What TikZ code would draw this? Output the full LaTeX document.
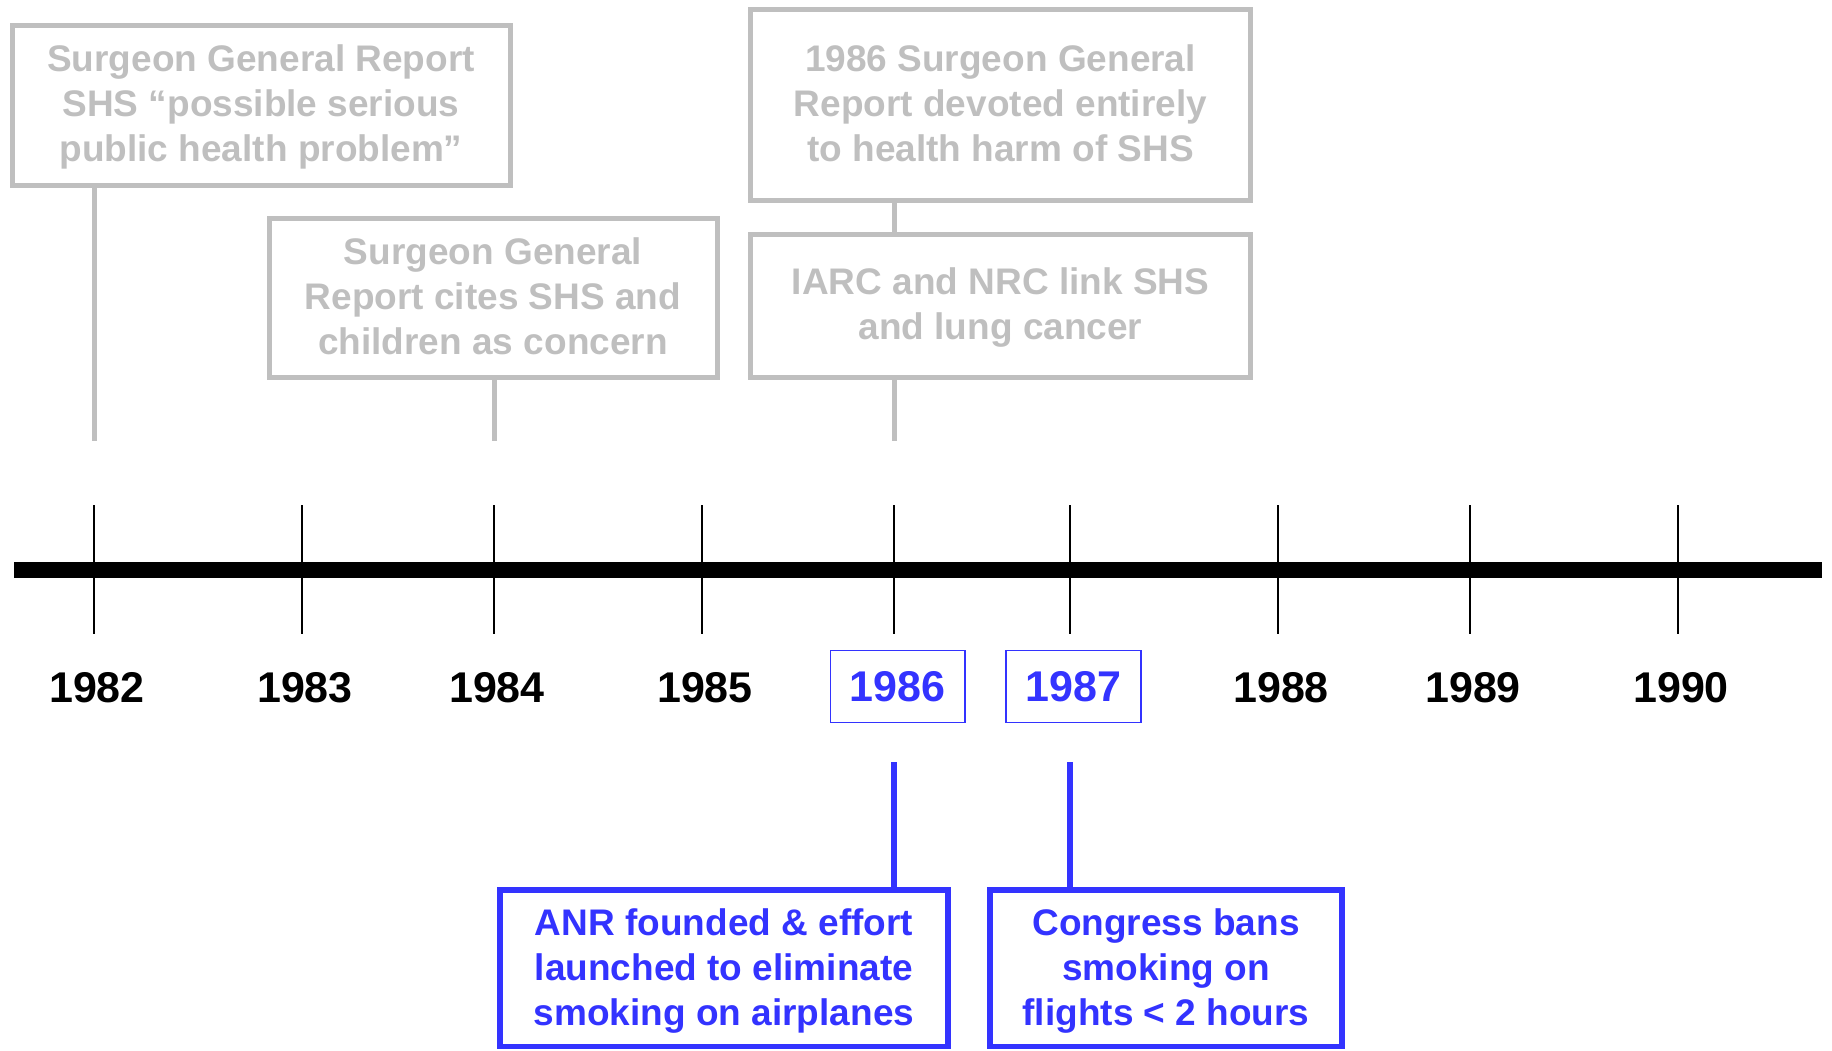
\documentclass[tikz,border=0pt]{standalone}
\usepackage{fontspec}
\setmainfont{Liberation Sans}
\definecolor{boxgray}{RGB}{191,191,191}
\definecolor{evblue}{RGB}{51,51,255}
\newcommand\bxs{\rule[-0.18em]{0pt}{1.08em}}
\newcommand\gxs{\rule[-0.18em]{0pt}{0.98em}}
\begin{document}
\begin{tikzpicture}[x=1pt,y=-1pt,
  graybox/.style={draw=boxgray, line width=5pt, inner sep=0pt, align=center,
    text=boxgray, font=\fontsize{37}{45}\selectfont\bfseries},
  bluebox/.style={draw=evblue, line width=5.5pt, inner sep=0pt, align=center,
    text=evblue, font=\fontsize{37}{45}\selectfont\bfseries},
  yearlbl/.style={inner sep=0pt, font=\fontsize{43}{50}\selectfont\bfseries},
  yearbox/.style={yearlbl, draw=evblue, text=evblue, line width=1.5pt},
  grayline/.style={draw=boxgray, line width=5pt},
  blueline/.style={draw=evblue, line width=6pt},
  tickline/.style={draw=black, line width=1.6pt},
  axisline/.style={draw=black, line width=16pt}]
\useasboundingbox (0,0) rectangle (1832,1051);

% axis
\coordinate (axL) at (14,569.7);
\coordinate (axR) at (1822,569.7);
\draw[axisline] (axL) -- (axR);
\foreach \x in {94,302,494,702,894,1070,1278,1470,1678}
  \draw[tickline] (\x,505) -- (\x,634);

% year labels
\node[yearlbl] (y82) at (97,688) {1982};
\node[yearlbl] (y83) at (305,688) {1983};
\node[yearlbl] (y84) at (497,688) {1984};
\node[yearlbl] (y85) at (705,688) {1985};
\node[yearbox, minimum width=134.5pt, minimum height=72pt] (y86) at (897.75,686.5) {1986};
\node[yearbox, minimum width=135pt, minimum height=72pt] (y87) at (1073.5,686.5) {1987};
\node[yearlbl] (y88) at (1281,688) {1988};
\node[yearlbl] (y89) at (1473,688) {1989};
\node[yearlbl] (y90) at (1681,688) {1990};

% gray event boxes
\node[graybox, minimum width=498pt, minimum height=160pt] (A) at (261,106)
  {\gxs Surgeon General Report\\\gxs SHS “possible serious\\\gxs public health problem”};
\node[graybox, minimum width=448pt, minimum height=159pt] (B) at (493,298)
  {\gxs Surgeon General\\\gxs Report cites SHS and\\\gxs children as concern};
\node[graybox, minimum width=500pt, minimum height=190.5pt] (C) at (1000.5,105.25)
  {\gxs 1986 Surgeon General\\\gxs Report devoted entirely\\\gxs to health harm of SHS};
\node[graybox, minimum width=500pt, minimum height=143pt] (D) at (1000.5,306)
  {\gxs IARC and NRC link SHS\\\gxs and lung cancer};

\coordinate (g82) at (94,441);
\coordinate (g84) at (494,441);
\coordinate (g86) at (894,441);
\draw[grayline] (A.south -| g82) -- (g82);
\draw[grayline] (B.south -| g84) -- (g84);
\draw[grayline] (C.south -| g86) -- (D.north -| g86);
\draw[grayline] (D.south -| g86) -- (g86);

% blue event boxes
\node[bluebox, minimum width=448pt, minimum height=156.5pt] (E) at (724,968.25)
  {\bxs ANR founded \& effort\\\bxs launched to eliminate\\\bxs smoking on airplanes};
\node[bluebox, minimum width=352pt, minimum height=156.5pt] (F) at (1166,968.25)
  {\bxs Congress bans\\\bxs smoking on\\\bxs flights < 2 hours};

\coordinate (b86) at (894,762);
\coordinate (b87) at (1070,762);
\draw[blueline] (b86) -- (E.north -| b86);
\draw[blueline] (b87) -- (F.north -| b87);
\end{tikzpicture}
\end{document}
